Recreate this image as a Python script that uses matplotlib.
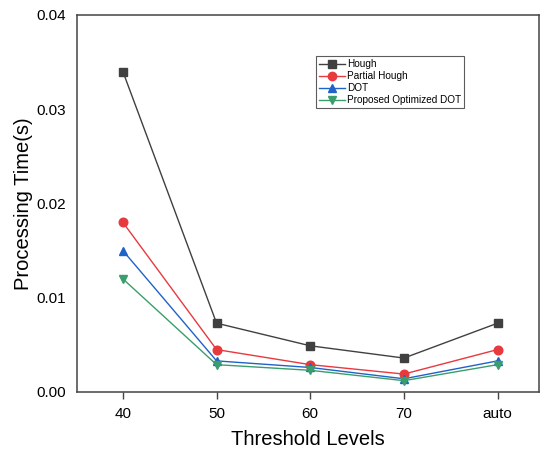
import matplotlib
matplotlib.use("Agg")
import matplotlib.pyplot as plt
import numpy as np

plt.rcParams["font.family"] = ["Liberation Sans", "DejaVu Sans"]

# ------------------------------------------------------------------ data -----
thresholds = ["40", "50", "60", "70", "auto"]
hough = [0.0340, 0.0073, 0.0049, 0.0036, 0.0073]
partial_hough = [0.0180, 0.0045, 0.0029, 0.0019, 0.0045]
dot = [0.0150, 0.0033, 0.0026, 0.0014, 0.0033]
proposed = [0.0120, 0.0029, 0.0023, 0.0012, 0.0029]

# --------------------------------------------------------------- styles ------
C_HOUGH = "#404040"
C_PART = "#e8393f"
C_DOT = "#1f63c9"
C_PROP = "#3a9e6c"

fig = plt.figure(figsize=(5.44, 4.54), dpi=100)
ax = fig.add_axes([0.1415, 0.1366, 0.849, 0.8304])

x = np.arange(len(thresholds))
series = [
    (hough, "Hough", C_HOUGH, "s"),
    (partial_hough, "Partial Hough", C_PART, "o"),
    (dot, "DOT", C_DOT, "^"),
    (proposed, "Proposed Optimized DOT", C_PROP, "v"),
]
for vals, lab, col, mk in series:
    ax.plot(x, vals, color=col, marker=mk, markersize=6.2, linewidth=1.0,
            label=lab)

ax.set_xticks(x)
ax.set_xticklabels(thresholds)
ax.set_xlim(-0.49, 4.44)
ax.set_ylim(0, 0.04)
ax.set_yticks([0.0, 0.01, 0.02, 0.03, 0.04])
ax.set_yticklabels(["0.00", "0.01", "0.02", "0.03", "0.04"])
ax.tick_params(axis="x", direction="out", length=5, width=1,
               labelsize=11, color="#444444", pad=6)
ax.tick_params(axis="y", length=0, labelsize=11, pad=8)
for sp in ax.spines.values():
    sp.set_color("#444444")
    sp.set_linewidth(1.1)

ax.set_xlabel("Threshold Levels", fontsize=14.5, labelpad=6)
ax.set_ylabel("Processing Time(s)", fontsize=14.5, labelpad=2)

leg = ax.legend(loc="upper left", bbox_to_anchor=(0.518, 0.89),
                fontsize=7.2, frameon=True, fancybox=False,
                borderpad=0.3, labelspacing=0.2, handlelength=2.6,
                handletextpad=0.2, borderaxespad=0)
leg.get_frame().set_edgecolor("#333333")
leg.get_frame().set_linewidth(0.8)
for h in leg.legend_handles:
    h.set_markersize(6)

fig.savefig("out.png", dpi=100)
